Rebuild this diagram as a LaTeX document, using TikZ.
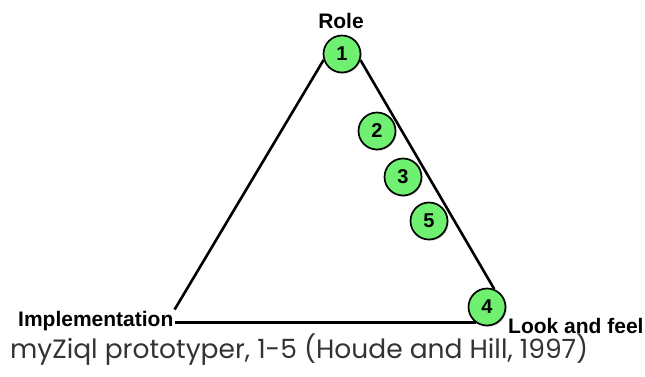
\documentclass[tikz,border=0pt]{standalone}
\usepackage{fontspec}
\setmainfont{Liberation Sans}
\newfontfamily\capfont{Poppins}
\usetikzlibrary{shadows,backgrounds}
\definecolor{BadgeGreen}{RGB}{112,240,112}

\begin{document}
\begin{tikzpicture}[
    x=1pt,y=-1pt,
    badge/.style={circle, draw=black, line width=1.7pt, fill=BadgeGreen, minimum size=37pt, inner sep=0pt, font=\fontsize{20}{20}\selectfont\bfseries, drop shadow={shadow xshift=1.2pt, shadow yshift=-1.2pt, opacity=0.35}},
    corner/.style={inner sep=1pt, font=\fontsize{21}{21}\selectfont\bfseries},
    side/.style={line width=2.6pt, draw=black}
  ]
  \useasboundingbox (0,0) rectangle (645,376);
  \node[corner, anchor=base] (role) at (341,28) {Role};
  \node[corner, anchor=base west] (impl) at (17,326) {Implementation};
  \node[corner, anchor=base west] (look) at (507,333) {Look and feel};
  \foreach \x/\y/\name/\lab in {342/54/c1/1,377/131/c2/2,403/177/c3/3,429/221/c5/5,487/307/c4/4} {
    \node[badge] (\name) at (\x,\y) {\lab};
  }
  \begin{scope}[on background layer]
    \draw[side] (c1.-162) -- (impl.north east);
    \draw[side] (c1.-18) -- (c4.68);
    \draw[side] (impl.east |- c4.-126) -- (c4.-126);
  \end{scope}
  \node[anchor=base west, inner sep=0pt, font=\capfont\fontsize{26.5}{26.5}\selectfont, text=black!80] (caption) at (10,358) {myZiql prototyper, 1-5 (Houde and Hill, 1997)};
\end{tikzpicture}
\end{document}
